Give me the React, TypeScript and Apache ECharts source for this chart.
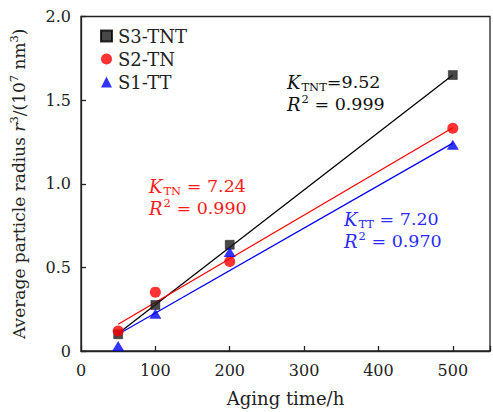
import React, { useEffect, useRef } from "react";
import * as echarts from "echarts";

const hours = [50, 100, 200, 500];
const tntValues = [0.1, 0.275, 0.635, 1.65];
const tnValues = [0.12, 0.352, 0.535, 1.332];
const ttValues = [0.03, 0.222, 0.592, 1.233];
const fitX = [50, 500];
const fitTNT = [0.105, 1.65];
const fitTN = [0.16, 1.335];
const fitTT = [0.1, 1.243];
const seriesNames = ["S3-TNT", "S2-TN", "S1-TT"];
const xTicks = [0, 100, 200, 300, 400, 500];
const yTicks = [0, 0.5, 1.0, 1.5, 2.0];

const FONT = "DejaVu Serif";
const FS = 16;

const pairs = (xs: number[], ys: number[]) => xs.map((x, i) => [x, ys[i]]);

const richBase = (color: string) => ({
  k: { fontFamily: FONT, fontStyle: "italic", fontSize: 18, lineHeight: 22, padding: [0, 1, 0, 0], fill: color },
  n: { fontFamily: FONT, fontSize: 17.5, lineHeight: 22, fill: color },
  s: { fontFamily: FONT, fontSize: 11.5, lineHeight: 16, verticalAlign: "bottom", fill: color },
  p: { fontFamily: FONT, fontSize: 11.5, lineHeight: 17, verticalAlign: "top", fill: color },
});

export default function App() {
  const ref = useRef<HTMLDivElement>(null);
  useEffect(() => {
    if (!ref.current) return;
    const chart = echarts.init(ref.current, undefined, { renderer: "svg" });
    const axisColor = "#222";
    chart.setOption({
      animation: false,
      backgroundColor: "#fff",
      textStyle: { fontFamily: FONT },
      grid: {
        left: 79.5,
        right: -2,
        top: 16.5,
        bottom: 61,
        show: true,
        borderColor: axisColor,
        borderWidth: 1.3,
        backgroundColor: "transparent",
      },
      legend: {
        orient: "vertical",
        left: 95,
        top: 22,
        itemWidth: 11,
        itemHeight: 11,
        itemGap: 5,
        textStyle: {
          fontFamily: FONT,
          fontSize: 18,
          lineHeight: 18,
          color: "#222",
          padding: [0, 0, 0, 1],
        },
        data: seriesNames,
      },
      xAxis: {
        type: "value",
        min: 0,
        max: 550,
        interval: 100,
        name: "Aging time/h",
        nameLocation: "middle",
        nameGap: 38,
        nameTextStyle: { fontFamily: FONT, fontSize: 18, color: "#222" },
        axisLine: { show: true, lineStyle: { color: axisColor, width: 1.3 } },
        axisTick: { show: true, inside: true, length: 5, lineStyle: { color: axisColor, width: 1.3 } },
        axisLabel: {
          fontFamily: FONT,
          fontSize: FS,
          color: "#222",
          margin: 11,
          formatter: (v: number) => (xTicks.includes(v) ? String(v) : ""),
        },
        splitLine: { show: false },
      },
      yAxis: {
        type: "value",
        min: 0,
        max: 2,
        interval: 0.5,
        name:
          "{n|Average particle radius }{i|r}{p|3}{n|/(10}{p|7}{n| nm}{p|3}{n|)}",
        nameLocation: "middle",
        nameGap: 52,
        nameRotate: 90,
        nameTextStyle: {
          fontFamily: FONT,
          fontSize: 17,
          color: "#222",
          rich: {
            n: { fontFamily: FONT, fontSize: 17, lineHeight: 21, color: "#222" },
            i: { fontFamily: FONT, fontStyle: "italic", fontSize: 17, lineHeight: 21, color: "#222" },
            p: { fontFamily: FONT, fontSize: 11.5, lineHeight: 12, verticalAlign: "top", color: "#222" },
          },
        },
        axisLine: { show: true, lineStyle: { color: axisColor, width: 1.3 } },
        axisTick: { show: true, inside: true, length: 5, lineStyle: { color: axisColor, width: 1.3 } },
        axisLabel: {
          fontFamily: FONT,
          fontSize: FS,
          color: "#222",
          margin: 10,
          formatter: (v: number) => {
            const t = yTicks.find((y) => Math.abs(y - v) < 1e-9);
            if (t === undefined) return "";
            return t === 0 ? "0" : t.toFixed(1);
          },
        },
        splitLine: { show: false },
      },
      series: [
        {
          type: "line",
          data: pairs(fitX, fitTNT),
          showSymbol: false,
          symbol: "none",
          lineStyle: { color: "#000", width: 1.3 },
          silent: true,
          z: 2,
        },
        {
          type: "line",
          data: pairs(fitX, fitTN),
          showSymbol: false,
          symbol: "none",
          lineStyle: { color: "#ff0000", width: 1.3 },
          silent: true,
          z: 2,
        },
        {
          type: "line",
          data: pairs(fitX, fitTT),
          showSymbol: false,
          symbol: "none",
          lineStyle: { color: "#0000ff", width: 1.3 },
          silent: true,
          z: 2,
        },
        {
          name: seriesNames[0],
          type: "scatter",
          symbol: "rect",
          symbolSize: 9,
          itemStyle: { color: "#1a1a1a", borderColor: "#000", borderWidth: 0.5 },
          data: pairs(hours, tntValues),
          z: 3,
        },
        {
          name: seriesNames[1],
          type: "scatter",
          symbol: "circle",
          symbolSize: 11,
          itemStyle: { color: "#ff0000" },
          data: pairs(hours, tnValues),
          z: 4,
        },
        {
          name: seriesNames[2],
          type: "scatter",
          symbol: "triangle",
          symbolSize: [12, 10],
          itemStyle: { color: "#0000ff" },
          data: pairs(hours, ttValues),
          z: 5,
        },
      ],
      graphic: [
        {
          type: "text",
          left: 287,
          top: 73,
          style: {
            text: "{k|K}{s|TNT}{n|=9.52}\n{k|R}{p|2}{n| = 0.999}",
            rich: richBase("#111"),
          },
        },
        {
          type: "text",
          left: 149,
          top: 177,
          style: {
            text: "{k|K}{s|TN}{n| = 7.24}\n{k|R}{p|2}{n| = 0.990}",
            rich: richBase("#ff1a1a"),
          },
        },
        {
          type: "text",
          left: 344,
          top: 210,
          style: {
            text: "{k|K}{s|TT}{n| = 7.20}\n{k|R}{p|2}{n| = 0.970}",
            rich: richBase("#2a2aff"),
          },
        },
      ],
    });
    return () => chart.dispose();
  }, []);
  return (
    <div
      ref={ref}
      style={{ position: "fixed", left: 0, top: 0, width: 493, height: 412 }}
    />
  );
}
